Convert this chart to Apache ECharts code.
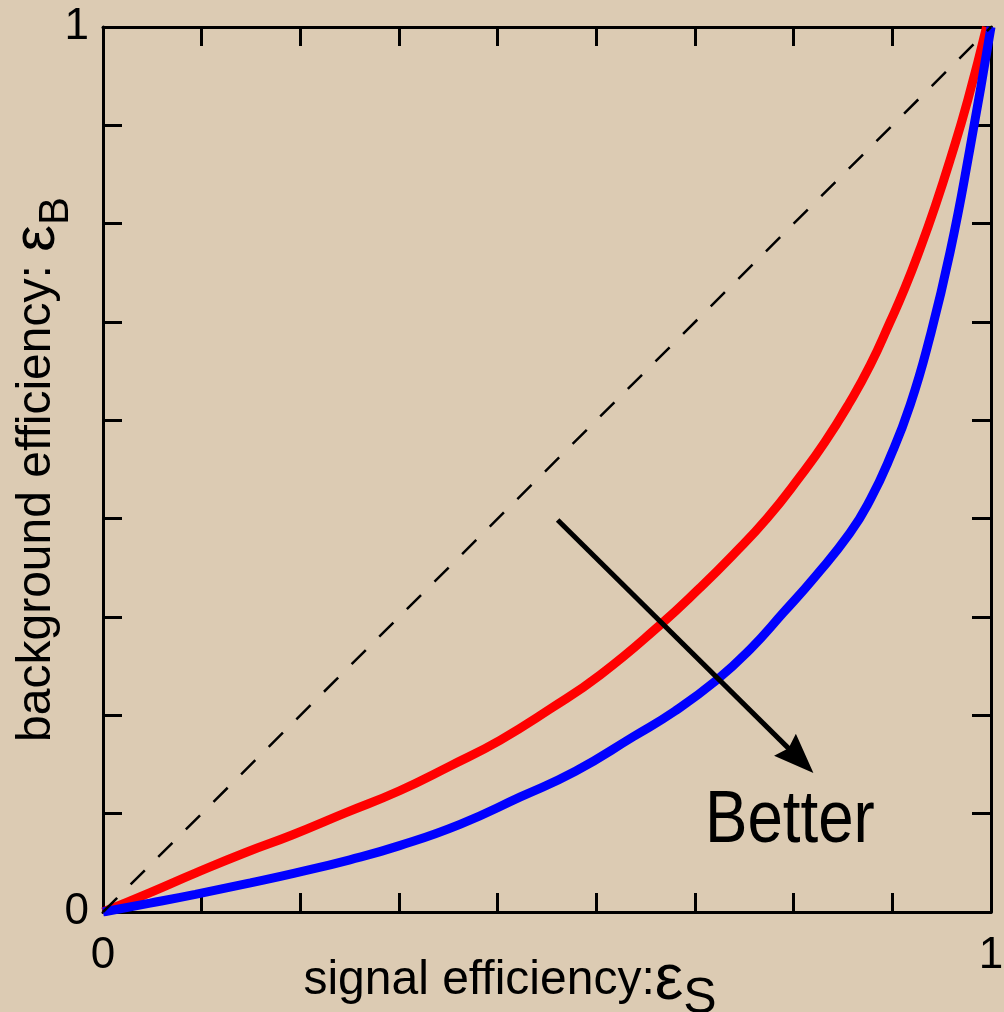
<!DOCTYPE html>
<html><head><meta charset="utf-8">
<script src="https://cdn.jsdelivr.net/npm/echarts@6/dist/echarts.min.js"></script>
<style>html,body{margin:0;padding:0;background:#dccbb3}#c{width:1004px;height:1012px}</style>
</head><body><div id="c"></div>
<script>
// ---- data ----
const tickStep = 1 / 9;
const tickLabels = ['0', '1'];
const xTitle = 'signal efficiency:';
const xSymbol = 'ε';
const xSub = 'S';
const yTitle = 'background efficiency: ';
const ySymbol = 'ε';
const ySub = 'B';
const redCurve = [[0,0],[0.053,0.022],[0.104,0.044],[0.160,0.067],[0.213,0.087],[0.273,0.112],[0.334,0.137],[0.391,0.165],[0.447,0.194],[0.503,0.229],[0.560,0.268],[0.627,0.324],[0.672,0.366],[0.709,0.403],[0.748,0.445],[0.785,0.492],[0.813,0.531],[0.841,0.576],[0.864,0.618],[0.886,0.666],[0.903,0.705],[0.920,0.749],[0.937,0.797],[0.954,0.850],[0.974,0.918],[0.995,1.000]];
const blueCurve = [[0,0],[0.053,0.010],[0.104,0.020],[0.166,0.033],[0.216,0.044],[0.278,0.059],[0.334,0.075],[0.402,0.099],[0.470,0.130],[0.532,0.159],[0.597,0.198],[0.644,0.227],[0.691,0.262],[0.729,0.297],[0.766,0.338],[0.802,0.379],[0.841,0.428],[0.864,0.466],[0.886,0.513],[0.909,0.573],[0.931,0.649],[0.954,0.746],[0.976,0.861],[1,1]];
const diagonal = [[0,0],[1,1]];
const arrowStart = [0.512, 0.443];
const arrowEnd = [0.784, 0.173];
const annotation = 'Better';

const FONT = "'Liberation Sans', Arial, Helvetica, sans-serif";
function lab(v) {
  if (Math.abs(v) < 1e-6) return tickLabels[0];
  if (Math.abs(v - 1) < 1e-6) return tickLabels[1];
  return '';
}
const lineSt = {color:'#000', width:3};
function mkAxis(pos, main, extra) {
  return Object.assign({
    type:'value', min:0, max:1, interval:tickStep, position:pos,
    axisLine:{show:true, onZero:false, lineStyle:lineSt},
    axisTick:{show:true, inside:true, length:19, lineStyle:lineSt},
    splitLine:{show:false},
    nameMoveOverlap:false,
    axisLabel: main ? {show:true, formatter:lab, fontSize:44, color:'#000', fontFamily:FONT, showMinLabel:true, showMaxLabel:true} : {show:false}
  }, extra || {});
}
const chart = echarts.init(document.getElementById('c'), null, {renderer:'canvas'});
chart.setOption({
  backgroundColor:'#dccbb3',
  animation:false,
  grid:{left:103, top:27, right:13, bottom:100, containLabel:false, outerBoundsMode:'none'},
  xAxis:[
    mkAxis('bottom', true, {
      name:'{a|' + xTitle + '}{e|' + xSymbol + '}{s|' + xSub + '}',
      nameLocation:'middle', nameGap:26,
      axisLabel:{show:true, formatter:lab, fontSize:44, color:'#000', fontFamily:FONT, margin:22, showMinLabel:true, showMaxLabel:true},
      nameTextStyle:{color:'#000', fontFamily:FONT, padding:[0,74,0,0],
        rich:{
          a:{fontSize:48, fontFamily:FONT, color:'#000'},
          e:{fontSize:64, fontFamily:FONT, color:'#000'},
          s:{fontSize:50, fontFamily:FONT, color:'#000', padding:[36,0,0,0]}
        }}
    }),
    mkAxis('top', false)
  ],
  yAxis:[
    mkAxis('left', true, {
      name:'{a|' + yTitle + '}{e|' + ySymbol + '}{s|' + ySub + '}',
      nameLocation:'middle', nameGap:26,
      axisLabel:{show:true, formatter:lab, fontSize:44, color:'#000', fontFamily:FONT, margin:14, showMinLabel:true, showMaxLabel:true},
      nameTextStyle:{color:'#000', fontFamily:FONT,
        rich:{
          a:{fontSize:48, fontFamily:FONT, color:'#000'},
          e:{fontSize:60, fontFamily:FONT, color:'#000'},
          s:{fontSize:42, fontFamily:FONT, color:'#000', padding:[38,0,0,0]}
        }}
    }),
    mkAxis('right', false)
  ],
  series:[
    {type:'line', data:redCurve, showSymbol:false, smooth:0.5, silent:true,
      lineStyle:{color:'#ff0000', width:9}},
    {type:'line', data:blueCurve, showSymbol:false, smooth:0.5, silent:true,
      lineStyle:{color:'#0000ff', width:9}},
    {type:'line', data:diagonal, showSymbol:false, silent:true,
      lineStyle:{color:'#000', width:2.5, type:[20,19]},
      markLine:{silent:true, animation:false,
        symbol:['none','path://M15,0 L30,40 L15,35 L0,40 Z'], symbolSize:[31,40],
        label:{show:false},
        lineStyle:{color:'#000', width:5, type:'solid'},
        emphasis:{disabled:true},
        data:[[{coord:arrowStart},{coord:arrowEnd}]]}}
  ],
  graphic:[
    {type:'text', x:705, y:822, scaleX:0.86, silent:true,
      style:{text:annotation, fontSize:74, fontFamily:FONT, fill:'#000', align:'left', verticalAlign:'middle'}}
  ]
});
</script>
</body></html>
